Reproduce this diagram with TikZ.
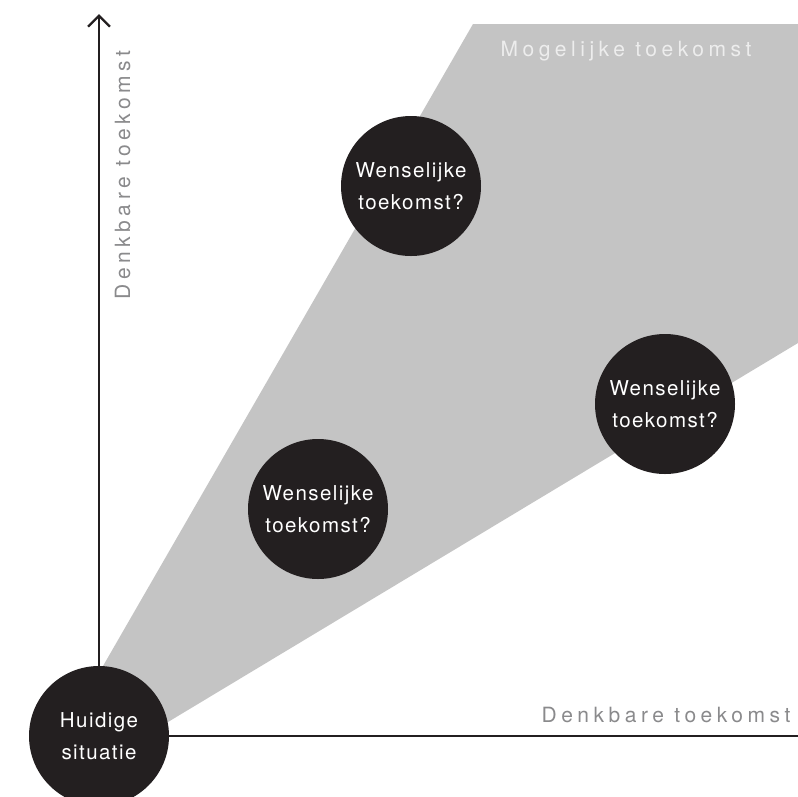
\documentclass[tikz,border=0pt]{standalone}
\usepackage{fontspec}
\setmainfont{TeX Gyre Heros}
\newfontfamily\circlefont[LetterSpace=7]{TeX Gyre Heros}
\newfontfamily\axisfont[LetterSpace=21.5]{TeX Gyre Heros}
\usetikzlibrary{arrows.meta}
\definecolor{futureblack}{HTML}{231F20}
\definecolor{futuregrey}{HTML}{C4C4C4}
\definecolor{axisgrey}{HTML}{8A8A8C}
\definecolor{wedgetext}{HTML}{EDEDED}

\begin{document}
\begin{tikzpicture}[x=1pt, y=-1pt,
  spot/.style={circle, fill=futureblack, minimum size=140pt, inner sep=0pt,
    align=center, text=white, font=\circlefont\fontsize{20.5}{32}\selectfont},
  axis/.style={draw=futureblack, line width=2.3pt},
  axislabel/.style={text=#1, font=\axisfont\fontsize{21}{24}\selectfont,
    inner sep=0pt, anchor=base}
]
\useasboundingbox (0,0) rectangle (798,796);
\clip (0,0) rectangle (798,796);
% wedge of possible futures
\fill[futuregrey] (103,666) -- (473,24) -- (798,24) -- (798,343) -- (168,722) -- (99,736) -- cycle;
\node[axislabel=wedgetext] (wedge) at (626,56) {Mogelijke toekomst};

\coordinate (ytop) at (99,14);
\coordinate (xend) at (798,736);
\node[spot] (now) at (99,736) {Huidige\\situatie};
\draw[axis, -{Straight Barb[length=11pt, width=22pt]}] (now) -- (ytop);
\draw[axis] (now) -- (xend);
\node[axislabel=axisgrey] (xlabel) at (666,722) {Denkbare toekomst};
\node[axislabel=axisgrey, rotate=90] (ylabel) at (130,175) {Denkbare toekomst};

\node[spot] (w1) at (411,186) {Wenselijke\\toekomst?};
\node[spot] (w2) at (318,509) {Wenselijke\\toekomst?};
\node[spot] (w3) at (665,404) {Wenselijke\\toekomst?};
\end{tikzpicture}
\end{document}
